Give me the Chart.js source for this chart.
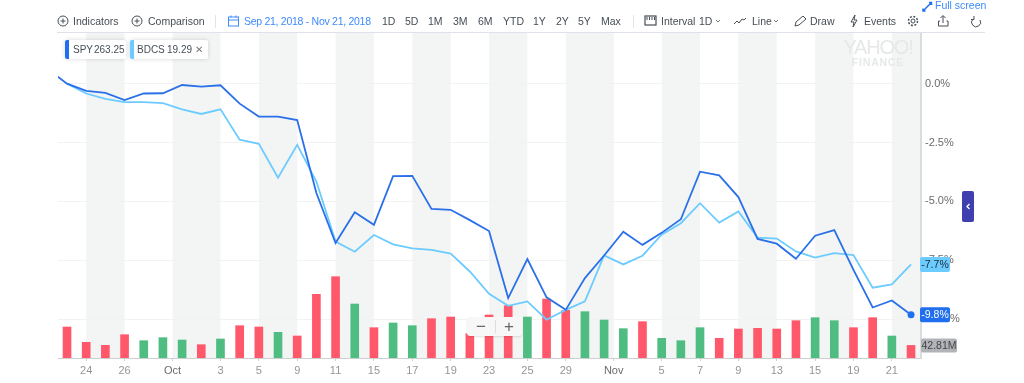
<!DOCTYPE html>
<html>
<head>
<meta charset="utf-8">
<title>SPY vs BDCS</title>
<script src="https://cdn.jsdelivr.net/npm/chart.js@4/dist/chart.umd.min.js"></script>
<style>
	html, body { margin: 0; padding: 0; background: #fff; overflow: hidden; }
	body { width: 1024px; height: 383px; position: relative; font-family: "Liberation Sans", Arial, sans-serif; font-size: 10.5px; color: #464e56; }
	#mycanvas { position: absolute; left: 0; top: 0; }
	.t { position: absolute; top: 15px; line-height: 13px; white-space: nowrap; }
	.blue { color: #3d8bfd; }
	#topline { position: absolute; left: 57px; top: 32px; width: 928px; height: 1px; background: #dfe2ea; }
	.sep { position: absolute; top: 15px; width: 1px; height: 13px; background: #e2e4e8; }
	.chip { position: absolute; top: 40px; height: 19px; background: #fff; border-radius: 2px; box-shadow: 0 0 4px rgba(0,0,0,.16); font-size: 10px; }
	.chip i { position: absolute; left: 0; top: 0; width: 4px; height: 19px; border-radius: 2px 0 0 2px; }
	.chip span { position: absolute; top: 0; line-height: 19px; white-space: nowrap; }
	#logo { position: absolute; left: 843px; top: 37px; width: 70px; text-align: center; color: #e6e8e8; }
	#logo div:first-child { font-size: 20px; line-height: 20px; letter-spacing: -1.2px; white-space: nowrap; }
	#logo div:last-child { font-size: 10.5px; line-height: 10px; font-weight: bold; letter-spacing: 0.8px; }
	#zoombox { position: absolute; left: 467px; top: 317px; width: 55px; height: 19px; background: #f7f7f7; border-radius: 3px; box-shadow: 0 1px 2px rgba(0,0,0,.12); }
	#zoombox span { position: absolute; top: 0; line-height: 19px; font-size: 17px; color: #666; }
	#zoombox b { position: absolute; left: 28px; top: 3px; width: 1px; height: 13px; background: #ddd; }
	#tab { position: absolute; left: 962px; top: 191px; width: 12px; height: 31px; background: #3f3fb0; border-radius: 2px; }
	svg { position: absolute; left: 0; top: 0; pointer-events: none; }
</style>
</head>
<body>
<canvas id="mycanvas" width="1024" height="383"></canvas>

<div id="topline"></div>
<div class="t" style="left:73px">Indicators</div>
<div class="t" style="left:148px">Comparison</div>
<div class="sep" style="left:215px"></div>
<div class="t blue" style="left:244px;letter-spacing:-0.28px">Sep 21, 2018 - Nov 21, 2018</div>
<div class="t" style="left:382px">1D</div>
<div class="t" style="left:405px">5D</div>
<div class="t" style="left:428px">1M</div>
<div class="t" style="left:453px">3M</div>
<div class="t" style="left:478px">6M</div>
<div class="t" style="left:503px">YTD</div>
<div class="t" style="left:533px">1Y</div>
<div class="t" style="left:556px">2Y</div>
<div class="t" style="left:578px">5Y</div>
<div class="t" style="left:601px">Max</div>
<div class="sep" style="left:633px"></div>
<div class="t" style="left:661px">Interval</div>
<div class="t" style="left:699px">1D</div>
<div class="t" style="left:752px">Line</div>
<div class="t" style="left:810px">Draw</div>
<div class="t" style="left:864px">Events</div>
<div class="t blue" style="left:935px;top:-1px">Full screen</div>

<div class="chip" style="left:65px;width:61px"><i style="background:#1f6fef"></i><span style="left:8px">SPY</span><span style="left:29px">263.25</span></div>
<div class="chip" style="left:130px;width:78px"><i style="background:#6ccbff"></i><span style="left:7px">BDCS</span><span style="left:37px">19.29</span><span style="left:65px;color:#777">✕</span></div>

<div id="logo"><div>YAHOO!</div><div>FINANCE</div></div>

<div id="zoombox"><span style="left:9px">−</span><b></b><span style="left:37px">+</span></div>
<div id="tab"></div>

<svg width="1024" height="383" fill="none" stroke="#464e56" stroke-width="1">
	<circle cx="63" cy="21" r="5"/><path d="M63 18.5v5M60.5 21h5"/>
	<circle cx="137" cy="21" r="5"/><path d="M137 18.5v5M134.500 21h5"/>
	<g stroke="#3d8bfd"><rect x="228.500" y="17" width="10" height="9"/><path d="M228.500 20h10M231 15.500v2M236 15.500v2"/></g>
	<rect x="645" y="16" width="11" height="9" stroke-width="1.200"/><path d="M647 17v3M649.500 17v3M652 17v3M654.500 17v3"/>
	<path d="M716 20l2 2 2-2M774 20l2 2 2-2" stroke="#777"/>
	<path d="M734 24l3-3 2 2 3-4 2 1 2-2"/>
	<path d="M795 26l1-4 7-6 3 3-7 6z"/>
	<path d="M855 15l-4 7h3l-1 5 4-7h-3z"/>
	<circle cx="913" cy="21" r="2"/><circle cx="913" cy="21" r="4.500" stroke-dasharray="2 1.500" stroke-width="1.500"/>
	<path d="M943 16v7M940.500 18l2.500-2.500 2.500 2.500M940 21h-1.500v5h9.500v-5h-1.500"/>
	<path d="M980 20a4.500 4.500 0 1 1-7-1M974 16v3.500h-3"/>
	<g stroke="#1f6fef" stroke-width="1.500"><path d="M927 7l4-4M929 2.500h2.500v2.500M927 7l-4 4M923 8.500v2.500h2.500"/></g>
	<path d="M969.500 204l-2.500 2.500 2.500 2.500" stroke="#fff" stroke-width="1.300"/>
</svg>

<script>
// trading days on the axis, Sep 20 is the point cut off by the left edge
var categories = ["Sep 20", "Sep 21", "Sep 24", "Sep 25", "Sep 26", "Sep 27", "Sep 28", "Oct 1", "Oct 2", "Oct 3", "Oct 4", "Oct 5", "Oct 8", "Oct 9", "Oct 10", "Oct 11", "Oct 12", "Oct 15", "Oct 16", "Oct 17", "Oct 18", "Oct 19", "Oct 22", "Oct 23", "Oct 24", "Oct 25", "Oct 26", "Oct 29", "Oct 30", "Oct 31", "Nov 1", "Nov 2", "Nov 5", "Nov 6", "Nov 7", "Nov 8", "Nov 9", "Nov 12", "Nov 13", "Nov 14", "Nov 15", "Nov 16", "Nov 19", "Nov 20", "Nov 21", "Nov 21b"];

var spy_values = [0.60, 0, -0.31, -0.39, -0.70, -0.42, -0.41, -0.06, -0.13, -0.07, -0.85, -1.40, -1.40, -1.55, -4.65, -6.77, -5.46, -6.00, -3.93, -3.92, -5.32, -5.36, -5.80, -6.26, -9.11, -7.45, -9.08, -9.61, -8.26, -7.30, -6.29, -6.85, -6.34, -5.76, -3.74, -3.90, -4.82, -6.60, -6.80, -7.44, -6.46, -6.22, -7.91, -9.51, -9.21, -9.82];
var bdcs_values = [null, 0, -0.42, -0.65, -0.79, -0.79, -0.83, -1.09, -1.29, -1.09, -2.38, -2.56, -4.00, -2.60, -4.16, -6.71, -7.14, -6.43, -6.83, -7.00, -7.06, -7.22, -7.98, -8.93, -9.44, -9.25, -10.03, -9.61, -9.25, -7.30, -7.68, -7.31, -6.42, -5.93, -5.08, -5.90, -5.43, -6.54, -6.58, -7.13, -7.39, -7.20, -7.28, -8.67, -8.53, -7.68];

// volume in millions
var volume_values = [null, 105.4, 53.3, 43.0, 79.3, 58.9, 69.1, 61.2, 45.3, 64.6, 109.9, 105.4, 87.3, 74.8, 216.4, 276.5, 183.6, 103.1, 119.0, 109.9, 133.7, 139.4, 82.7, 146.2, 177.9, 139.4, 200.5, 162.0, 157.5, 129.2, 99.7, 123.5, 66.9, 58.9, 103.1, 66.9, 98.6, 100.8, 98.6, 126.9, 137.1, 126.9, 103.1, 137.1, 74.8, 42.81];
var volume_up = [null, 0, 0, 0, 0, 1, 1, 1, 0, 1, 0, 0, 1, 0, 0, 0, 1, 0, 1, 1, 0, 0, 0, 0, 0, 1, 0, 0, 1, 1, 1, 0, 1, 1, 1, 0, 0, 0, 0, 0, 1, 1, 0, 0, 1, 0];

var x_tick_positions = [2, 4, 6.5, 9, 11, 13, 15, 17, 19, 21, 23, 25, 27, 29.5, 32, 34, 36, 38, 40, 42, 44];
var x_tick_labels = ["24", "26", "Oct", "3", "5", "9", "11", "15", "17", "19", "23", "25", "29", "Nov", "5", "7", "9", "13", "15", "19", "21"];
var y_tick_values = [0, -2.5, -5, -7.5, -10];

var RED = "#ff586b";
var GREEN = "#4fbc82";
var SPY_COLOR = "#2a70e8";
var BDCS_COLOR = "#6ccbff";

function toPoints(values) {
	var points = [];
	for (var i in values) {
		points.push({ x: Number(i), y: values[i] });
	}
	return points;
}

// weekly shading sits between every other pair of ticks
var bandsPlugin = {
	id: "bands",
	beforeDraw: function(chart) {
		var ctx = chart.ctx;
		var xs = chart.scales.x;
		var area = chart.chartArea;
		ctx.save();
		ctx.fillStyle = "#f3f5f5";
		for (var i = 0; i < x_tick_positions.length; i += 2) {
			var left = xs.getPixelForValue(x_tick_positions[i]);
			var right = i + 1 < x_tick_positions.length ? xs.getPixelForValue(x_tick_positions[i + 1]) : area.right;
			ctx.fillRect(left, area.top, right - left, area.bottom - area.top);
		}
		ctx.restore();
	}
};

function drawPill(ctx, text, x, y, w, h, bg, fg) {
	ctx.fillStyle = bg;
	ctx.beginPath();
	ctx.roundRect(x, y - h / 2, w, h, 2);
	ctx.fill();
	ctx.fillStyle = fg;
	ctx.textAlign = "center";
	ctx.textBaseline = "middle";
	ctx.font = "10.5px 'Liberation Sans'";
	ctx.fillText(text, x + w / 2, y + 0.5);
}

// value tags on the right hand axis
var tagsPlugin = {
	id: "tags",
	afterDraw: function(chart) {
		var ctx = chart.ctx;
		var right = chart.chartArea.right;
		var lastSpy = spy_values[spy_values.length - 1];
		var lastBdcs = bdcs_values[bdcs_values.length - 1];
		var lastVol = volume_values[volume_values.length - 1];
		ctx.save();
		drawPill(ctx, lastBdcs.toFixed(1) + "%", right - 1, chart.scales.y.getPixelForValue(lastBdcs), 30, 15, BDCS_COLOR, "#1c2b3a");
		drawPill(ctx, lastSpy.toFixed(1) + "%", right - 1, chart.scales.y.getPixelForValue(lastSpy), 30, 15, "#1f6fef", "#fff");
		drawPill(ctx, lastVol.toFixed(2) + "M", right, chart.scales.vol.getPixelForValue(lastVol), 36, 14, "#b1b3b9", "#444");
		ctx.restore();
	}
};

var chartdata = {
	datasets: [
		{
			type: "line",
			label: "SPY",
			order: 0,
			yAxisID: "y",
			fill: false,
			tension: 0,
			borderWidth: 1.8,
			borderColor: SPY_COLOR,
			backgroundColor: "#1f6fef",
			pointRadius: function(c) { return c.dataIndex === spy_values.length - 1 ? 3.5 : 0; },
			pointBorderWidth: 0,
			data: toPoints(spy_values)
		},
		{
			type: "line",
			label: "BDCS",
			order: 1,
			yAxisID: "y",
			fill: false,
			tension: 0,
			borderWidth: 1.8,
			borderColor: BDCS_COLOR,
			pointRadius: 0,
			data: toPoints(bdcs_values)
		},
		{
			type: "bar",
			label: "Volume",
			order: 2,
			yAxisID: "vol",
			barThickness: 8,
			backgroundColor: volume_up.map(function(up) { return up ? GREEN : RED; }),
			data: toPoints(volume_values)
		}
	]
};

var LineGraph = new Chart(document.getElementById("mycanvas"), {
	data: chartdata,
	plugins: [bandsPlugin, tagsPlugin],
	options: {
		responsive: false,
		animation: false,
		events: [],
		layout: { padding: { left: 58, top: 33, right: 0, bottom: 0 } },
		plugins: { legend: { display: false }, tooltip: { enabled: false } },
		scales: {
			x: {
				type: "linear",
				offset: false,
				min: 0.53,
				max: 45.52,
				afterBuildTicks: function(axis) {
					axis.ticks = x_tick_positions.map(function(v) { return { value: v }; });
				},
				afterFit: function(axis) { axis.height = 25; },
				border: { color: "#cfcfcf" },
				grid: { offset: false, drawOnChartArea: false, tickLength: 3, color: "#cfcfcf" },
				ticks: {
					autoSkip: false,
					maxRotation: 0,
					padding: 3,
					font: { family: "Liberation Sans", size: 11 },
					color: function(c) { return isNaN(x_tick_labels[c.index]) ? "#6b6b6b" : "#959595"; },
					callback: function(value, index) { return x_tick_labels[index]; }
				}
			},
			y: {
				position: "right",
				min: -11.655,
				max: 2.15,
				afterBuildTicks: function(axis) {
					axis.ticks = y_tick_values.map(function(v) { return { value: v }; });
				},
				afterFit: function(axis) { axis.width = 103; },
				border: { color: "#dcdcdc", width: 2 },
				grid: { color: "#f2f2f2", tickLength: 3 },
				ticks: {
					padding: 1,
					font: { family: "Liberation Sans", size: 11 },
					color: "#6b6b6b",
					callback: function(value) { return value.toFixed(1) + "%"; }
				}
			},
			vol: {
				display: false,
				position: "right",
				min: 0,
				max: 1105,
				grid: { display: false }
			}
		}
	}
});
</script>
</body>
</html>
